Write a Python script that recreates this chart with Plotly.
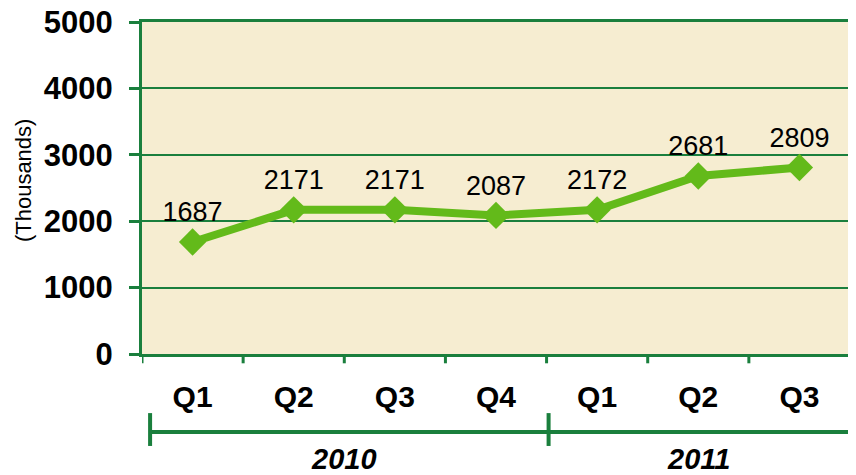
import plotly.graph_objects as go

quarter_text = ["Q1", "Q2", "Q3", "Q4", "Q1", "Q2", "Q3"]
values = [1687, 2171, 2171, 2087, 2172, 2681, 2809]
years = ["2010", "2011"]
year_centers = [1.5, 5.0]

green_line = "#63BA1A"
dark_green = "#1A7F3D"
bg = "#F6EDD1"
font = "Liberation Sans, Arial, sans-serif"

fig = go.Figure()

fig.add_trace(go.Scatter(
    x=list(range(len(values))),
    y=values,
    mode="lines+markers+text",
    line=dict(color=green_line, width=8),
    marker=dict(symbol="diamond", size=21, color=green_line),
    text=[str(v) for v in values],
    textposition="top center",
    textfont=dict(family=font, size=27, color="black"),
    cliponaxis=False,
    hoverinfo="skip",
))

# year bracket under the quarter labels
shapes = [
    dict(type="line", xref="x", yref="paper", x0=-0.42, x1=6.6, y0=-0.235, y1=-0.235,
         line=dict(color=dark_green, width=4)),
    dict(type="line", xref="x", yref="paper", x0=-0.42, x1=-0.42, y0=-0.178, y1=-0.277,
         line=dict(color=dark_green, width=4)),
    dict(type="line", xref="x", yref="paper", x0=3.52, x1=3.52, y0=-0.178, y1=-0.277,
         line=dict(color=dark_green, width=4)),
]

annotations = [
    dict(text=y, x=xc, y=-0.316, xref="x", yref="paper", showarrow=False,
         xanchor="center", yanchor="middle",
         font=dict(family=font, size=29, color="black", weight="bold", style="italic"))
    for y, xc in zip(years, year_centers)
]
annotations.append(dict(
    text="(Thousands)", x=-0.168, y=0.524, xref="paper", yref="paper",
    showarrow=False, textangle=-90, xanchor="center", yanchor="middle",
    font=dict(family=font, size=22, color="black"),
))

# the page body adds an 8px margin, so the figure is sized and offset for it
fig.update_layout(
    width=848,
    height=467,
    margin=dict(l=134, r=6, t=14, b=121, autoexpand=False),
    paper_bgcolor="white",
    plot_bgcolor=bg,
    showlegend=False,
    shapes=shapes,
    annotations=annotations,
    xaxis=dict(
        range=[-0.5, 6.5],
        tickmode="array",
        tickvals=list(range(len(values))),
        ticktext=quarter_text,
        showgrid=False,
        showline=True,
        mirror=True,
        linecolor=dark_green,
        linewidth=3,
        ticks="",
        ticklabelstandoff=14,
        tickfont=dict(family=font, size=30, color="black", weight="bold"),
        zeroline=False,
        automargin=False,
    ),
    yaxis=dict(
        range=[0, 5000],
        tickvals=[0, 1000, 2000, 3000, 4000, 5000],
        showgrid=True,
        gridcolor=dark_green,
        gridwidth=1.5,
        showline=True,
        mirror=True,
        linecolor=dark_green,
        linewidth=3,
        ticks="outside",
        ticklen=10,
        tickwidth=3,
        tickcolor=dark_green,
        ticklabelstandoff=10,
        ticklabeloverflow="allow",
        tickfont=dict(family=font, size=31, color="black", weight="bold"),
        zeroline=False,
        automargin=False,
    ),
)

# boundary ticks between quarters on the category axis
for b in [i + 0.5 for i in range(-1, len(values))]:
    fig.add_shape(type="line", xref="x", yref="paper", x0=b, x1=b, y0=0, y1=-0.028,
                  line=dict(color=dark_green, width=3))

fig.write_html("out.html")
